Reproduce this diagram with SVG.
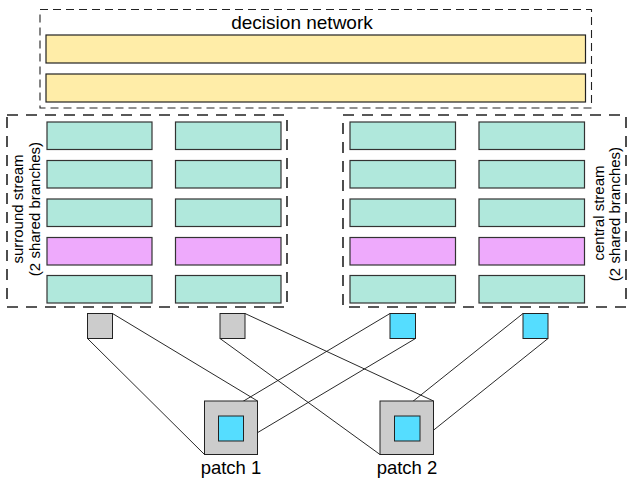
<svg xmlns="http://www.w3.org/2000/svg" width="639" height="482" viewBox="0 0 639 482">
<style>
.dash{fill:none;stroke:#222;stroke-width:1.1;stroke-dasharray:8 5}
.dash2{fill:none;stroke:#222;stroke-width:1.6;stroke-dasharray:11 8}
.y{fill:#FFEDA8;stroke:#222;stroke-width:1.2}
.t{fill:#B0E8DC;stroke:#333;stroke-width:1.2}
.p{fill:#EEAAFC;stroke:#333;stroke-width:1.2}
.g{fill:#CCCCCC;stroke:#222;stroke-width:1}
.b{fill:#55DDFF;stroke:#222;stroke-width:1}
.lbl{font-family:"Liberation Sans",Arial,sans-serif;fill:#000}
.c line{stroke:#111;stroke-width:0.9}
</style>
<rect width="639" height="482" fill="#fff"/>
<g id="decision-network">
<rect class="dash" x="40" y="9.5" width="551.5" height="98.5"/>
<text class="lbl" x="302" y="29" font-size="19" text-anchor="middle">decision network</text>
<rect class="y" x="46" y="35" width="539.5" height="28"/>
<rect class="y" x="46" y="74" width="539.5" height="28"/>
</g>
<g id="surround-stream">
<rect class="dash2" x="7" y="115" width="280" height="192"/>
<text class="lbl" font-size="15" text-anchor="middle" transform="translate(23,209) rotate(-90)">surround stream</text>
<text class="lbl" font-size="15" text-anchor="middle" transform="translate(40,209) rotate(-90)">(2 shared branches)</text>
<rect class="t" x="47" y="122" width="105" height="27.5"/>
<rect class="t" x="47" y="160.5" width="105" height="27.5"/>
<rect class="t" x="47" y="199" width="105" height="27.5"/>
<rect class="p" x="47" y="237.5" width="105" height="27.5"/>
<rect class="t" x="47" y="275.5" width="105" height="27.5"/>
<rect class="t" x="175.5" y="122" width="105.5" height="27.5"/>
<rect class="t" x="175.5" y="160.5" width="105.5" height="27.5"/>
<rect class="t" x="175.5" y="199" width="105.5" height="27.5"/>
<rect class="p" x="175.5" y="237.5" width="105.5" height="27.5"/>
<rect class="t" x="175.5" y="275.5" width="105.5" height="27.5"/>
</g>
<g id="central-stream">
<rect class="dash2" x="343" y="115" width="283" height="192"/>
<text class="lbl" font-size="15" text-anchor="middle" transform="translate(604,213) rotate(-90)">central stream</text>
<text class="lbl" font-size="15" text-anchor="middle" transform="translate(620,214) rotate(-90)">(2 shared branches)</text>
<rect class="t" x="350" y="122" width="105.5" height="27.5"/>
<rect class="t" x="350" y="160.5" width="105.5" height="27.5"/>
<rect class="t" x="350" y="199" width="105.5" height="27.5"/>
<rect class="p" x="350" y="237.5" width="105.5" height="27.5"/>
<rect class="t" x="350" y="275.5" width="105.5" height="27.5"/>
<rect class="t" x="479" y="122" width="105.5" height="27.5"/>
<rect class="t" x="479" y="160.5" width="105.5" height="27.5"/>
<rect class="t" x="479" y="199" width="105.5" height="27.5"/>
<rect class="p" x="479" y="237.5" width="105.5" height="27.5"/>
<rect class="t" x="479" y="275.5" width="105.5" height="27.5"/>
</g>
<g id="connectors" class="c">
<line x1="87.5" y1="338.5" x2="204.5" y2="454.5"/>
<line x1="112.5" y1="313.5" x2="257.5" y2="401"/>
<line x1="220" y1="338.5" x2="380" y2="454.5"/>
<line x1="245" y1="313.5" x2="433.5" y2="401"/>
<line x1="390" y1="313.5" x2="218.5" y2="416"/>
<line x1="415.5" y1="338.5" x2="243.5" y2="441"/>
<line x1="523" y1="313.5" x2="394.5" y2="416"/>
<line x1="548" y1="338.5" x2="420" y2="441"/>
</g>
<g id="surround-unit-1"><rect class="g" x="87.5" y="313.5" width="25" height="25"/></g>
<g id="surround-unit-2"><rect class="g" x="220" y="313.5" width="25" height="25"/></g>
<g id="central-unit-1"><rect class="b" x="390" y="313.5" width="25.5" height="25"/></g>
<g id="central-unit-2"><rect class="b" x="523" y="313.5" width="25" height="25"/></g>
<g id="patch-1">
<rect class="g" x="204.5" y="401" width="53" height="53.5"/>
<rect class="b" x="218.5" y="416" width="25" height="25"/>
<text class="lbl" x="231" y="474" font-size="18.5" text-anchor="middle">patch 1</text>
</g>
<g id="patch-2">
<rect class="g" x="380" y="401" width="53.5" height="53.5"/>
<rect class="b" x="394.5" y="416" width="25.5" height="25"/>
<text class="lbl" x="407" y="474" font-size="18.5" text-anchor="middle">patch 2</text>
</g>
</svg>
